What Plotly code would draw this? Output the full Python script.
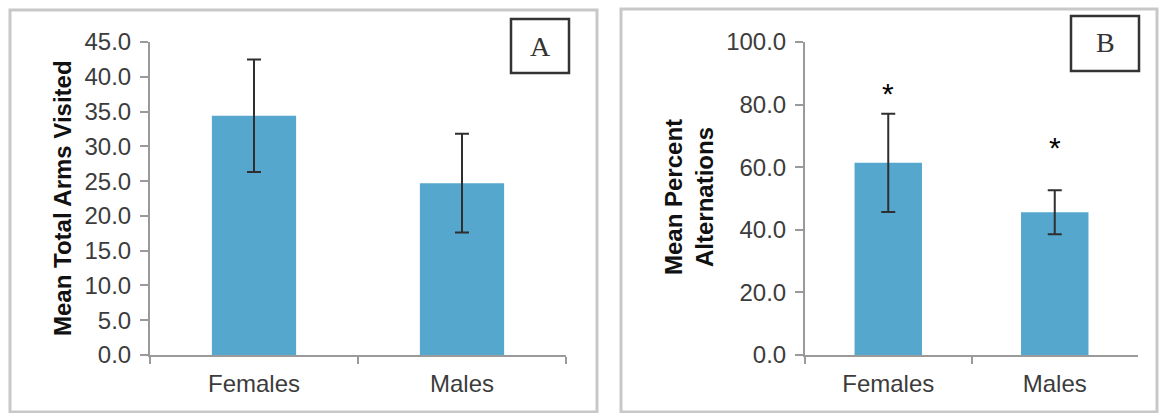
import plotly.graph_objects as go

W, H = 1161, 413

# Panel A: total arm entries
groups = ["Females", "Males"]
arms_mean = [34.4, 24.7]
arms_sem = [8.1, 7.1]

# Panel B: spontaneous alternation
alt_mean = [61.4, 45.6]
alt_sem = [15.7, 7.0]
star_y = [84.6, 67.1]

bar_color = "#55A7CE"
axis_color = "#9a9a9a"
text_color = "#3c3c3c"
font_family = "Liberation Sans, Arial, Helvetica, sans-serif"


def px(x):
    return x / W


def py(y):
    return 1 - y / H


fig = go.Figure()

fig.add_trace(go.Bar(
    x=groups, y=arms_mean, marker=dict(color=bar_color, line=dict(width=0)),
    error_y=dict(type="data", array=arms_sem, color="#2f2f2f", thickness=2, width=7),
    xaxis="x", yaxis="y", showlegend=False,
))
fig.add_trace(go.Bar(
    x=groups, y=alt_mean, marker=dict(color=bar_color, line=dict(width=0)),
    error_y=dict(type="data", array=alt_sem, color="#2f2f2f", thickness=2, width=7),
    xaxis="x2", yaxis="y2", showlegend=False,
))

ydom = [py(355), py(42)]
common_x = dict(
    type="category", showline=True, linecolor=axis_color, linewidth=2,
    ticks="outside", tickson="boundaries", ticklen=7, tickcolor=axis_color, tickwidth=2,
    tickfont=dict(size=24, color=text_color, family=font_family),
    showgrid=False, zeroline=False, ticklabelstandoff=6, automargin=False,
)
common_y = dict(
    showline=True, linecolor=axis_color, linewidth=2,
    ticks="outside", ticklen=8, tickcolor=axis_color, tickwidth=2,
    tickfont=dict(size=24, color=text_color, family=font_family),
    showgrid=False, zeroline=False, tickformat=".1f", ticklabelstandoff=4,
    domain=ydom, automargin=False,
)

fig.update_layout(
    template="none",
    width=W, height=H, margin=dict(l=0, r=0, t=0, b=0, pad=0, autoexpand=False),
    paper_bgcolor="white", plot_bgcolor="white",
    bargap=0.595,
    font=dict(family=font_family, color=text_color),
    xaxis=dict(domain=[px(150), px(566)], anchor="y", **common_x),
    yaxis=dict(range=[0, 45], dtick=5, tick0=0, anchor="x", **common_y),
    xaxis2=dict(domain=[px(805), px(1138)], anchor="y2", **common_x),
    yaxis2=dict(range=[0, 100], dtick=20, tick0=0, anchor="x2", **common_y),
)

# Panel frames and letter boxes
shapes = [
    dict(type="rect", xref="paper", yref="paper", x0=px(10), x1=px(597), y0=py(412), y1=py(10),
         line=dict(color="#c8c8c8", width=3)),
    dict(type="rect", xref="paper", yref="paper", x0=px(621), x1=px(1157), y0=py(412), y1=py(9),
         line=dict(color="#c8c8c8", width=3)),
    dict(type="rect", xref="paper", yref="paper", x0=px(511), x1=px(569), y0=py(73), y1=py(19),
         line=dict(color="#333333", width=2.5)),
    dict(type="rect", xref="paper", yref="paper", x0=px(1071), x1=px(1139), y0=py(71), y1=py(16),
         line=dict(color="#333333", width=2.5)),
]
fig.update_layout(shapes=shapes)

annotations = [
    dict(text="A", x=px(540), y=py(46), xref="paper", yref="paper", showarrow=False,
         xanchor="center", yanchor="middle",
         font=dict(family="Liberation Serif, Times New Roman, serif", size=28, color="#333333")),
    dict(text="B", x=px(1105), y=py(43), xref="paper", yref="paper", showarrow=False,
         xanchor="center", yanchor="middle",
         font=dict(family="Liberation Serif, Times New Roman, serif", size=28, color="#333333")),
    dict(text="<b>Mean Total Arms Visited</b>", x=px(62), y=py(198), xref="paper", yref="paper",
         showarrow=False, textangle=-90, xanchor="center", yanchor="middle",
         font=dict(size=24, color="#111111", family=font_family)),
    dict(text="<b>Mean Percent</b><br><b>Alternations</b>", x=px(689), y=py(197), xref="paper",
         yref="paper", showarrow=False, textangle=-90, xanchor="center", yanchor="middle",
         font=dict(size=24, color="#111111", family=font_family)),
]
for g, sy in zip(groups, star_y):
    annotations.append(dict(
        text="*", x=g, y=sy, xref="x2", yref="y2", showarrow=False,
        xanchor="center", yanchor="middle", yshift=-3,
        font=dict(size=30, color="#000000", family=font_family),
    ))
fig.update_layout(annotations=annotations)

fig.write_html("out.html")
